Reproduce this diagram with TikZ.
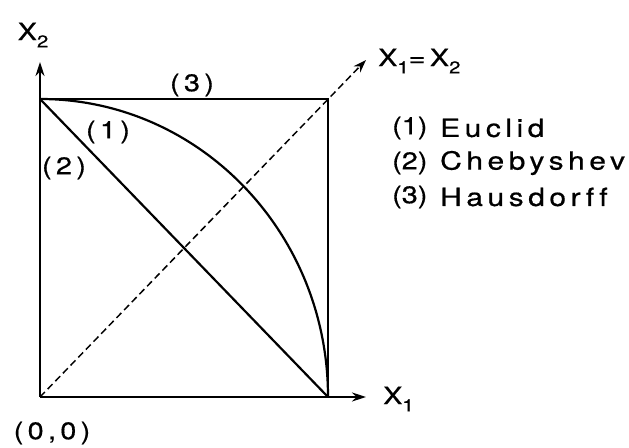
\documentclass[tikz,border=0pt]{standalone}
\usepackage{fontspec}
\setmainfont[FakeStretch=1.2,LetterSpace=18,FakeBold=0.6,Ligatures={NoCommon}]{TeX Gyre Heros}
\usetikzlibrary{arrows.meta}

\newcommand{\lowidx}[1]{\raisebox{-0.3em}{\fontsize{17}{17}\selectfont #1}}

\begin{document}
\begin{tikzpicture}[x=1pt,y=1pt,font=\fontsize{24}{28}\selectfont,
  axis/.style={line width=2pt,-{Stealth[length=14pt,width=9pt]}},
  metric/.style={line width=2.2pt},
  lbl/.style={inner sep=0pt},
  legnum/.style={lbl,anchor=west,font=\fontsize{24}{28}\selectfont\addfontfeature{LetterSpace=0}},
  legname/.style={lbl,anchor=west,font=\fontsize{25}{30}\selectfont}]
\useasboundingbox (0,0) rectangle (629,447);

\coordinate (O) at (40,50);
\coordinate (P) at (40,348);
\coordinate (Q) at (328,50);
\coordinate (R) at (328,348);
\coordinate (xend) at (366,50);
\coordinate (yend) at (40,385);
\coordinate (dend) at (366,387);

% axes and the line x1=x2
\draw[axis] (O) -- (xend);
\draw[axis] (O) -- (yend);
\draw[line width=1.5pt,dash pattern=on 7pt off 4pt,-{Stealth[length=13pt,width=9pt]}] (O) -- (dend);

% (2) Chebyshev, (1) Euclid, (3) Hausdorff
\draw[metric] (P) -- (Q);
\draw[metric] (P) arc[start angle=90,end angle=0,x radius=288,y radius=298];
\draw[line width=2.6pt] (P) -- (R) -- (Q);

\node[lbl] (xtwo) at (33,412) {X\lowidx{2}};
\node[lbl,anchor=west] (xone) at (383,48) {X\lowidx{1}};
\node[lbl,anchor=west] (diag) at (378,386) {X\lowidx{1}=X\lowidx{2}};
\node[lbl] (orig) at (52,14) {(0,0)};

\node[lbl] (lone) at (108,315) {(1)};
\node[lbl] (ltwo) at (64,279) {(2)};
\node[lbl] (lthree) at (192,362) {(3)};

\foreach \k/\name/\yy in {1/Euclid/319,2/Chebyshev/284,3/Hausdorff/250}{
  \node[legnum] (num\k) at (392,\yy) {(\k)};
  \node[legname] (name\k) at (440,\yy) {\name};
}
\end{tikzpicture}
\end{document}
